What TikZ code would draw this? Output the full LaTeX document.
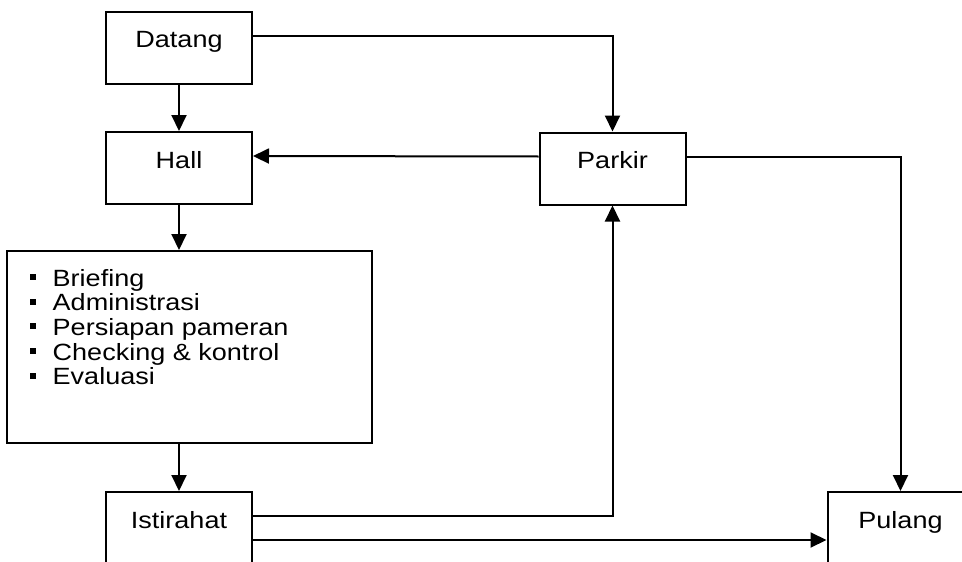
\documentclass[tikz,border=0pt]{standalone}
\usepackage{fontspec}
\setmainfont{Liberation Sans}[FakeStretch=1.15]
\usepackage{tikz}
\usetikzlibrary{arrows.meta,positioning,calc}
\newcommand{\sqbullet}{\rule[6pt]{6pt}{6pt}\hspace{16.5pt}}

\begin{document}
\begin{tikzpicture}[
    x=1pt, y=-1pt,
    font=\fontsize{23.5}{24.7}\selectfont,
    box/.style={draw, line width=2pt, minimum width=146pt, minimum height=72pt,
                inner sep=0pt, text height=14pt, text depth=14pt},
    item/.style={anchor=base west, inner sep=0pt},
    arrow/.style={-{Triangle[length=16pt,width=15pt]}, line width=2pt}
]
\useasboundingbox (0,0) rectangle (962,562);
\clip (0,0) rectangle (962,562);

\node[box] (datang) at (179,47.5) {Datang};
\node[box] (hall) at (179,168) {Hall};
\node[box] (parkir) at (612.5,168.5) {Parkir};
\node[box, minimum width=365pt, minimum height=192pt] (tasks) at (189.5,347) {};
\node[box] (istirahat) at (179,528) {Istirahat};
\node[box] (pulang) at (900.5,528) {Pulang};

% kegiatan
\foreach \t [count=\i] in {Briefing, Administrasi, Persiapan pameran, Checking \& kontrol, Evaluasi}
    \node[item] (item\i) at (30,261.3+24.7*\i) {\sqbullet\t};

\draw[arrow] (datang) -- (hall);
\draw[arrow] ([yshift=11.5pt]datang.east) -| (parkir);
\draw[arrow] ([yshift=12pt]parkir.west) -- ([yshift=12pt]hall.east);
\draw[arrow] ([yshift=12pt]parkir.east) -| (pulang);
\draw[arrow] (hall.south) -- (hall.south |- tasks.north);
\draw[arrow] (istirahat.north |- tasks.south) -- (istirahat.north);
\draw[arrow] ([yshift=12pt]istirahat.east) -| (parkir);
\draw[arrow] ([yshift=-12pt]istirahat.east) -- ([yshift=-12pt]pulang.west);
\end{tikzpicture}
\end{document}
